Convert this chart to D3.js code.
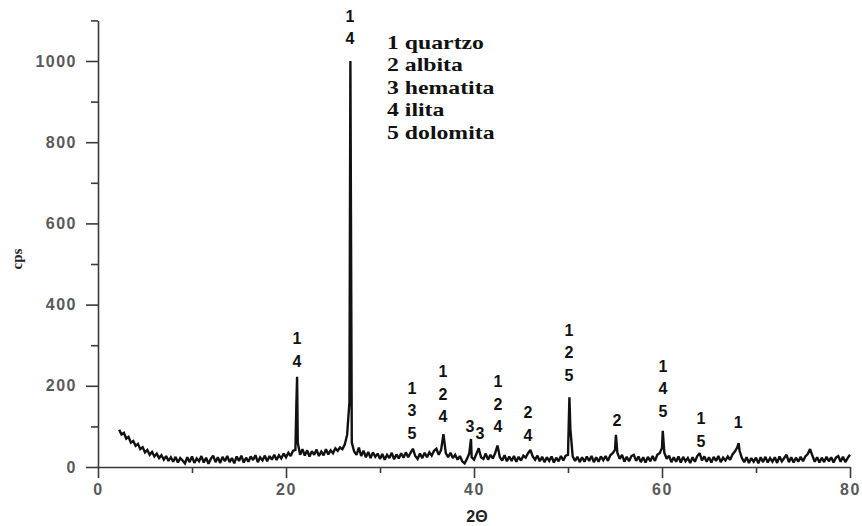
<!DOCTYPE html>
<html lang="en">

<head>
    <meta charset="UTF-8">
    <title>difratograma</title>
    <style>
        body { margin: 0; background: #fff; }
    </style>
</head>

<body>

    <div id="my_dataviz"></div>

    <script src="https://d3js.org/d3.v7.min.js"></script>

    <script type="text/javascript">

        // scan grid: cps every 0.25 deg, from 2.25 to 80 (2 theta)
        var scanStart = 2.25;
        var scanStep = 0.25;
        var cps = [
            92, 80, 84,
            70, 74, 60, 64,
            52, 57, 44, 49,
            36, 42, 30, 37,
            26, 33, 22, 29,
            18, 27, 15, 24,
            13, 25, 11, 22,
            16, 9, 24, 12,
            26, 10, 21, 14,      // 10
            27, 11, 23, 8,
            20, 28, 12, 24,
            10, 25, 14, 27,
            12, 22, 9, 26,
            15, 28, 11, 23,      // 15
            13, 26, 17, 29,
            12, 24, 16, 28,
            14, 27, 18, 30,
            17, 29, 21, 33,
            24, 35, 27, 40,      // 20
            42, 60, 30, 44,
            28, 41, 26, 39,
            30, 43, 27, 38,
            29, 44, 31, 41,
            34, 46, 40, 48,      // 25
            44, 55, 79, 160,
            60, 38, 30, 48,
            27, 40, 24, 37,
            22, 36, 25, 33,
            20, 32, 18, 30,      // 30
            22, 35, 19, 31,
            21, 34, 23, 36,
            24, 35, 45, 27,
            20, 33, 22, 35,
            24, 36, 28, 40,      // 35
            45, 30, 42, 81,
            34, 24, 35, 22,
            30, 18, 27, 14,
            9, 20, 34, 24,
            18, 32, 46, 24,      // 40
            20, 33, 18, 30,
            21, 34, 53, 24,
            16, 29, 14, 26,
            15, 27, 13, 25,
            16, 28, 23, 34,      // 45
            42, 26, 18, 28,
            14, 25, 12, 24,
            15, 26, 11, 23,
            14, 27, 16, 28,
            30, 94, 26, 15,      // 50
            25, 12, 24, 13,
            26, 15, 27, 12,
            24, 13, 26, 17,
            27, 15, 29, 34,
            42, 35, 20, 30,      // 55
            13, 25, 14, 27,
            30, 15, 26, 12,
            24, 11, 25, 14,
            27, 15, 30, 34,
            47, 35, 20, 28,      // 60
            12, 24, 13, 26,
            11, 25, 14, 22,
            10, 24, 13, 27,
            34, 16, 26, 13,
            24, 11, 25, 15,      // 65
            27, 12, 23, 16,
            26, 18, 31, 38,
            48, 40, 22, 12,
            24, 10, 22, 13,
            23, 9, 24, 12,       // 70
            25, 11, 22, 13,
            24, 10, 26, 14,
            22, 30, 12, 24,
            11, 23, 13, 25,
            14, 26, 32, 44,      // 75
            28, 13, 24, 11,
            23, 12, 25, 14,
            24, 11, 23, 27,
            13, 25, 12, 22,
            30                   // 80
        ];

        // sharp reflections that fall between grid points [2theta, cps]
        var peaks = [
            [21.1, 150], [21.18, 222],
            [26.85, 1000],
            [39.68, 69],
            [50.15, 172],
            [55.1, 79],
            [60.08, 89],
            [68.15, 59]
        ];

        // phase numbers written above the peaks
        var labelAt = [26.8, 21.17, 33.4, 36.7, 39.57, 40.64, 42.55, 45.74, 50.1, 55.2, 60.1, 64.15, 68.1];
        var labelText = ["14", "14", "135", "124", "3", "3", "124", "24", "125", "2", "145", "15", "1"];
        var labelBase = [1041, 247, 70, 110, 85, 70, 85, 65, 213, 102, 124, 50, 95];

        var legend = ["1 quartzo", "2 albita", "3 hematita", "4 ilita", "5 dolomita"];

        var xMajor = [0, 20, 40, 60, 80];
        var xMinor = [10, 30, 50, 70];
        var yMajor = [0, 200, 400, 600, 800, 1000];
        var yMinor = [100, 300, 500, 700, 900, 1100];

        // build one sorted series
        var data = cps.map(function (v, i) { return [scanStart + i * scanStep, v]; });
        data = data.concat(peaks);
        data.sort(function (a, b) { return a[0] - b[0]; });

        var width = 862, height = 526;

        var svg = d3.select("#my_dataviz")
            .append("svg")
            .attr("width", width)
            .attr("height", height);

        var x = d3.scaleLinear()
            .domain([0, 80])
            .range([98, 850]);

        var y = d3.scaleLinear()
            .domain([0, 1100])
            .range([467, 20.4]);

        var axisColor = "#3a3a3a";

        // minor ticks first
        svg.append("g")
            .attr("transform", "translate(0," + y(0) + ")")
            .call(d3.axisBottom(x).tickValues(xMinor).tickSize(6).tickFormat("").tickSizeOuter(0))
            .call(function (g) { g.select(".domain").remove(); });

        svg.append("g")
            .attr("transform", "translate(" + x(0) + ",0)")
            .call(d3.axisLeft(y).tickValues(yMinor).tickSize(7).tickFormat("").tickSizeOuter(0))
            .call(function (g) { g.select(".domain").remove(); });

        svg.append("g")
            .attr("transform", "translate(0," + y(0) + ")")
            .call(d3.axisBottom(x).tickValues(xMajor).tickSize(11).tickSizeOuter(0)
                .tickPadding(6).tickFormat(d3.format("d")));

        svg.append("g")
            .attr("transform", "translate(" + x(0) + ",0)")
            .call(d3.axisLeft(y).tickValues(yMajor).tickSize(12).tickSizeOuter(0)
                .tickPadding(9).tickFormat(d3.format("d")));

        svg.selectAll(".tick line, .domain")
            .attr("stroke", axisColor)
            .attr("stroke-width", 1.6);

        svg.selectAll(".tick text")
            .attr("fill", "#595959")
            .style("font-family", "'Liberation Sans', Arial, sans-serif")
            .style("font-weight", "bold")
            .style("font-size", "16px")
            .style("letter-spacing", "1.5px");

        // the diffractogram
        svg.append("path")
            .datum(data)
            .attr("fill", "none")
            .attr("stroke", "#111")
            .attr("stroke-width", 2.4)
            .attr("stroke-linejoin", "miter")
            .attr("stroke-miterlimit", 2)
            .attr("d", d3.line()
                .x(function (d) { return x(d[0]) })
                .y(function (d) { return y(d[1]) })
            );

        // peak labels
        labelAt.forEach(function (t, i) {
            var digits = labelText[i].split("");
            var n = digits.length;
            var txt = svg.append("text")
                .attr("text-anchor", "middle")
                .attr("fill", "#111")
                .style("font-family", "'Liberation Sans', Arial, sans-serif")
                .style("font-weight", "bold")
                .style("font-size", "16px");
            digits.forEach(function (c, k) {
                txt.append("tspan")
                    .attr("x", x(t))
                    .attr("y", y(labelBase[i]) - (n - 1 - k) * 22.5)
                    .text(c);
            });
        });

        // legend (the original lettering is drawn wide)
        svg.append("g")
            .attr("transform", "translate(387,0) scale(1.25,1)")
            .selectAll("text")
            .data(legend)
            .enter()
            .append("text")
            .attr("x", 0)
            .attr("y", function (d, i) { return 49 + i * 22.5; })
            .attr("fill", "#111")
            .style("font-family", "'Liberation Serif', 'Times New Roman', serif")
            .style("font-weight", "bold")
            .style("font-size", "19px")
            .text(function (d) { return d; });

        // axis titles
        svg.append("text")
            .attr("transform", "translate(22,259) rotate(-90)")
            .attr("text-anchor", "middle")
            .attr("fill", "#222")
            .style("font-family", "'Liberation Serif', 'Times New Roman', serif")
            .style("font-weight", "bold")
            .style("font-size", "15px")
            .text("cps");

        svg.append("text")
            .attr("x", 477)
            .attr("y", 522)
            .attr("text-anchor", "middle")
            .attr("fill", "#222")
            .style("font-family", "'Liberation Sans', Arial, sans-serif")
            .style("font-weight", "bold")
            .style("font-size", "16px")
            .text("2Θ");

    </script>

</body>

</html>
